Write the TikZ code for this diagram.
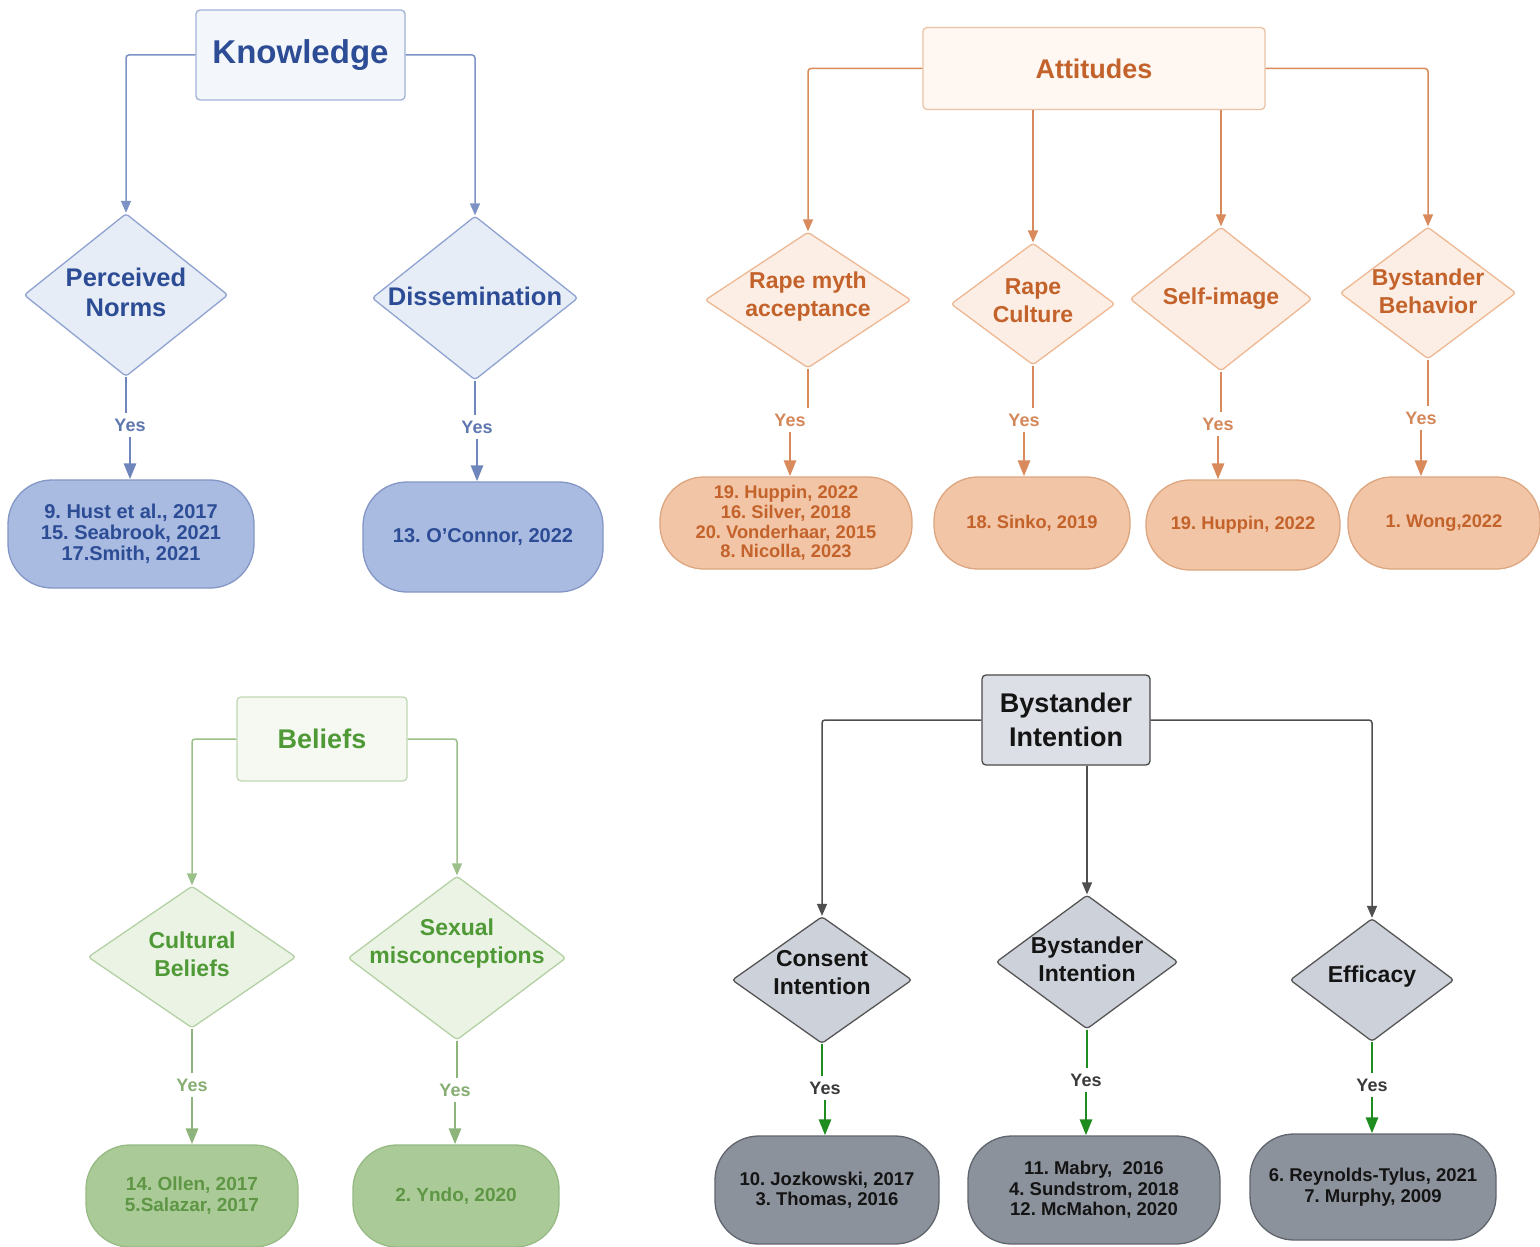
\documentclass[tikz,border=0pt]{standalone}
\usepackage{fontspec}
\setmainfont{Liberation Sans}
\usetikzlibrary{shapes.geometric,arrows.meta}
\frenchspacing
% Knowledge
\definecolor{kText}{HTML}{2C4C95}
\definecolor{kLine}{HTML}{7D93C6}
\definecolor{kBoxFill}{HTML}{F3F6FB}
\definecolor{kBoxDraw}{HTML}{A3B3D8}
\definecolor{kDiaFill}{HTML}{E7EDF7}
\definecolor{kDiaDraw}{HTML}{8FA3D0}
\definecolor{kTermFill}{HTML}{AABBE1}
\definecolor{kTermDraw}{HTML}{8496C6}
\definecolor{kYes}{HTML}{5F77B0}
\definecolor{kThick}{HTML}{6F86BC}
% Attitudes
\definecolor{aText}{HTML}{C3622A}
\definecolor{aLine}{HTML}{D98A5C}
\definecolor{aBoxFill}{HTML}{FEF7F2}
\definecolor{aBoxDraw}{HTML}{EBC3A4}
\definecolor{aDiaFill}{HTML}{FCEEE4}
\definecolor{aDiaDraw}{HTML}{EDB893}
\definecolor{aTermFill}{HTML}{F1C5A5}
\definecolor{aTermDraw}{HTML}{DDA680}
\definecolor{aYes}{HTML}{D4885A}
\definecolor{aThick}{HTML}{D98A5C}
% Beliefs
\definecolor{bText}{HTML}{4F9A37}
\definecolor{bLine}{HTML}{9CC08A}
\definecolor{bBoxFill}{HTML}{F5F9F2}
\definecolor{bBoxDraw}{HTML}{C2D8B6}
\definecolor{bDiaFill}{HTML}{EAF3E4}
\definecolor{bDiaDraw}{HTML}{B4D1A5}
\definecolor{bTermFill}{HTML}{AACB97}
\definecolor{bTermDraw}{HTML}{97BA85}
\definecolor{bYes}{HTML}{86AE73}
\definecolor{bThick}{HTML}{8DB47A}
\definecolor{bTermText}{HTML}{5F9645}
% Bystander
\definecolor{yText}{HTML}{141414}
\definecolor{yLine}{HTML}{4F4F4F}
\definecolor{yBoxFill}{HTML}{DCDFE6}
\definecolor{yBoxDraw}{HTML}{4A4A4A}
\definecolor{yDiaFill}{HTML}{CDD1DA}
\definecolor{yDiaDraw}{HTML}{555555}
\definecolor{yTermFill}{HTML}{8C929C}
\definecolor{yTermDraw}{HTML}{60656D}
\definecolor{yYes}{HTML}{3A3A3A}
\definecolor{yThick}{HTML}{1E8C1E}

\tikzset{
  headbox/.style={draw, rounded corners=4pt, line width=1.3pt, inner sep=0pt, align=center},
  dia/.style={diamond, draw, line width=1.3pt, inner sep=0pt, rounded corners=3pt},
  dtext/.style={align=center, inner sep=0pt, font=\bfseries\fontsize{23}{28}\selectfont},
  term/.style={draw, rounded corners=44pt, line width=1.3pt, inner sep=0pt, align=center,
               font=\bfseries\fontsize{18.5}{20.5}\selectfont},
  yes/.style={inner xsep=2pt, inner ysep=6pt, font=\bfseries\fontsize{18}{20}\selectfont},
  thin/.style={line width=1.5pt, rounded corners=3pt},
  thick/.style={line width=2.8pt},
  tipS/.style={-{Triangle[length=12pt,width=10pt]}},
  tipB/.style={-{Triangle[length=16pt,width=12pt]}},
}

\begin{document}
\begin{tikzpicture}[x=1pt,y=-1pt]
\useasboundingbox (0,0) rectangle (1540,1247);
\fill[white] (0,0) rectangle (1540,1247);

%================ Knowledge =================
\node[headbox, fill=kBoxFill, draw=kBoxDraw, minimum width=209pt, minimum height=90pt,
      text=kText, font=\bfseries\fontsize{33}{36}\selectfont] (know) at (300.5,55) {Knowledge};
\node[dia, fill=kDiaFill, draw=kDiaDraw, minimum width=204pt, minimum height=163pt,
      label={[dtext, text=kText, yshift=3pt, font=\bfseries\fontsize{25.5}{30}\selectfont]center:Perceived\\Norms}] (pn) at (126,295) {};
\node[dia, fill=kDiaFill, draw=kDiaDraw, minimum width=206pt, minimum height=164pt,
      label={[dtext, text=kText, yshift=2pt, font=\bfseries\fontsize{25.5}{30}\selectfont]center:Dissemination}] (dis) at (475,298) {};
\node[yes, text=kYes] (pny) at (130,425) {Yes};
\node[yes, text=kYes] (disy) at (477,427) {Yes};
\node[term, fill=kTermFill, draw=kTermDraw, text=kText, minimum width=246pt, minimum height=108pt,
      font=\bfseries\fontsize{20}{21}\selectfont] (pnt) at (131,534)
  {9. Hust et al., 2017\\15. Seabrook, 2021\\17.Smith, 2021};
\node[term, fill=kTermFill, draw=kTermDraw, text=kText, minimum width=240pt, minimum height=110pt,
      font=\bfseries\fontsize{20}{21}\selectfont] (dist) at (483,537)
  {13. O'Connor, 2022};
\draw[thin, kLine, tipS] (know.west) -| (pn.north);
\draw[thin, kLine, tipS] (know.east) -| (dis.north);
\draw[thick, kThick] (pn.south) -- (pn.south |- pny.north);
\draw[thick, kThick, tipB] (pny.south) -- (pny.south |- pnt.north);
\draw[thick, kThick] (dis.south) -- (dis.south |- disy.north);
\draw[thick, kThick, tipB] (disy.south) -- (disy.south |- dist.north);

%================ Attitudes =================
\node[headbox, fill=aBoxFill, draw=aBoxDraw, minimum width=342pt, minimum height=82pt,
      text=aText, font=\bfseries\fontsize{27}{30}\selectfont] (att) at (1094,68.5) {Attitudes};
\node[dia, fill=aDiaFill, draw=aDiaDraw, minimum width=206pt, minimum height=136pt,
      label={[dtext, text=aText, yshift=3pt]center:Rape myth\\acceptance}] (rma) at (808,300) {};
\node[dia, fill=aDiaFill, draw=aDiaDraw, minimum width=164pt, minimum height=122pt,
      label={[dtext, text=aText, yshift=3pt]center:Rape\\Culture}] (rc) at (1033,304) {};
\node[dia, fill=aDiaFill, draw=aDiaDraw, minimum width=182pt, minimum height=144pt,
      label={[dtext, text=aText]center:Self-image}] (si) at (1221,299) {};
\node[dia, fill=aDiaFill, draw=aDiaDraw, minimum width=176pt, minimum height=132pt,
      label={[dtext, text=aText, yshift=1.5pt]center:Bystander\\Behavior}] (bb) at (1428,293) {};
\node[yes, text=aYes] (rmay) at (790,420) {Yes};
\node[yes, text=aYes] (rcy) at (1024,420) {Yes};
\node[yes, text=aYes] (siy) at (1218,424) {Yes};
\node[yes, text=aYes] (bby) at (1421,418) {Yes};
\node[term, fill=aTermFill, draw=aTermDraw, text=aText, minimum width=252pt, minimum height=92pt,
      font=\bfseries\fontsize{18.3}{19.8}\selectfont] (rmat) at (786,523)
  {19. Huppin, 2022\\16. Silver, 2018\\20. Vonderhaar, 2015\\8. Nicolla, 2023};
\node[term, fill=aTermFill, draw=aTermDraw, text=aText, minimum width=196pt, minimum height=92pt,
      font=\bfseries\fontsize{18.3}{19.8}\selectfont] (rct) at (1032,523) {18. Sinko, 2019};
\node[term, fill=aTermFill, draw=aTermDraw, text=aText, minimum width=194pt, minimum height=90pt,
      font=\bfseries\fontsize{18.3}{19.8}\selectfont] (sit) at (1243,525) {19. Huppin, 2022};
\node[term, fill=aTermFill, draw=aTermDraw, text=aText, minimum width=192pt, minimum height=92pt,
      font=\bfseries\fontsize{18.3}{19.8}\selectfont] (bbt) at (1444,523) {1. Wong,2022};
\draw[thin, aLine, tipS] (att.west) -| (rma.north);
\draw[thin, aLine, tipS] (att.east) -| (bb.north);
\draw[thin, aLine, tipS] (att.south -| rc.north) -- (rc.north);
\draw[thin, aLine, tipS] (att.south -| si.north) -- (si.north);
\foreach \d/\y/\t in {rma/rmay/rmat, rc/rcy/rct, si/siy/sit, bb/bby/bbt}{
  \draw[thick, aThick] (\d.south) -- (\d.south |- \y.north);
  \draw[thick, aThick, tipB] (\y.south) -- (\y.south |- \t.north);
}

%================ Beliefs =================
\node[headbox, fill=bBoxFill, draw=bBoxDraw, minimum width=170pt, minimum height=84pt,
      text=bText, font=\bfseries\fontsize{27}{30}\selectfont] (bel) at (322,739) {Beliefs};
\node[dia, fill=bDiaFill, draw=bDiaDraw, minimum width=208pt, minimum height=142pt,
      label={[dtext, text=bText, yshift=3pt]center:Cultural\\Beliefs}] (cb) at (192,957) {};
\node[dia, fill=bDiaFill, draw=bDiaDraw, minimum width=218pt, minimum height=164pt,
      label={[dtext, text=bText, yshift=14pt]center:Sexual\\misconceptions}] (sm) at (457,958) {};
\node[yes, text=bYes] (cby) at (192,1085) {Yes};
\node[yes, text=bYes] (smy) at (455,1090) {Yes};
\node[term, fill=bTermFill, draw=bTermDraw, text=bTermText, minimum width=212pt, minimum height=102pt,
      font=\bfseries\fontsize{19}{21}\selectfont] (cbt) at (192,1196)
  {14. Ollen, 2017\\5.Salazar, 2017};
\node[term, fill=bTermFill, draw=bTermDraw, text=bTermText, minimum width=206pt, minimum height=102pt,
      font=\bfseries\fontsize{19}{21}\selectfont] (smt) at (456,1196)
  {2. Yndo, 2020};
\draw[thin, bLine, tipS] (bel.west) -| (cb.north);
\draw[thin, bLine, tipS] (bel.east) -| (sm.north);
\foreach \d/\y/\t in {cb/cby/cbt, sm/smy/smt}{
  \draw[thick, bThick] (\d.south) -- (\d.south |- \y.north);
  \draw[thick, bThick, tipB] (\y.south) -- (\y.south |- \t.north);
}

%================ Bystander Intention =================
\node[headbox, fill=yBoxFill, draw=yBoxDraw, minimum width=168pt, minimum height=90pt,
      text=yText, font=\bfseries\fontsize{27}{34}\selectfont] (byst) at (1066,720) {Bystander\\Intention};
\node[dia, fill=yDiaFill, draw=yDiaDraw, minimum width=180pt, minimum height=127pt,
      label={[dtext, text=yText, yshift=7.5pt]center:Consent\\Intention}] (ci) at (822,980) {};
\node[dia, fill=yDiaFill, draw=yDiaDraw, minimum width=182pt, minimum height=134pt,
      label={[dtext, text=yText, yshift=2.5pt]center:Bystander\\Intention}] (bi) at (1087,962) {};
\node[dia, fill=yDiaFill, draw=yDiaDraw, minimum width=164pt, minimum height=123pt,
      label={[dtext, text=yText, yshift=3pt]center:Efficacy}] (eff) at (1372,980) {};
\node[yes, text=yYes] (ciy) at (825,1088) {Yes};
\node[yes, text=yYes] (biy) at (1086,1080) {Yes};
\node[yes, text=yYes] (effy) at (1372,1085) {Yes};
\node[term, fill=yTermFill, draw=yTermDraw, text=yText, minimum width=224pt, minimum height=108pt] (cit) at (827,1190)
  {10. Jozkowski, 2017\\3. Thomas, 2016};
\node[term, fill=yTermFill, draw=yTermDraw, text=yText, minimum width=252pt, minimum height=108pt] (bit) at (1094,1190)
  {11. Mabry,\ \ 2016\\4. Sundstrom, 2018\\12. McMahon, 2020};
\node[term, fill=yTermFill, draw=yTermDraw, text=yText, minimum width=246pt, minimum height=106pt] (efft) at (1373,1187)
  {6. Reynolds-Tylus, 2021\\7. Murphy, 2009};
\draw[thin, yLine, tipS] (byst.west) -| (ci.north);
\draw[thin, yLine, tipS] (byst.east) -| (eff.north);
\draw[thin, yLine, tipS] (byst.south -| bi.north) -- (bi.north);
\foreach \d/\y/\t in {ci/ciy/cit, bi/biy/bit, eff/effy/efft}{
  \draw[thick, yThick] (\d.south) -- (\d.south |- \y.north);
  \draw[thick, yThick, tipB] (\y.south) -- (\y.south |- \t.north);
}
\end{tikzpicture}
\end{document}
